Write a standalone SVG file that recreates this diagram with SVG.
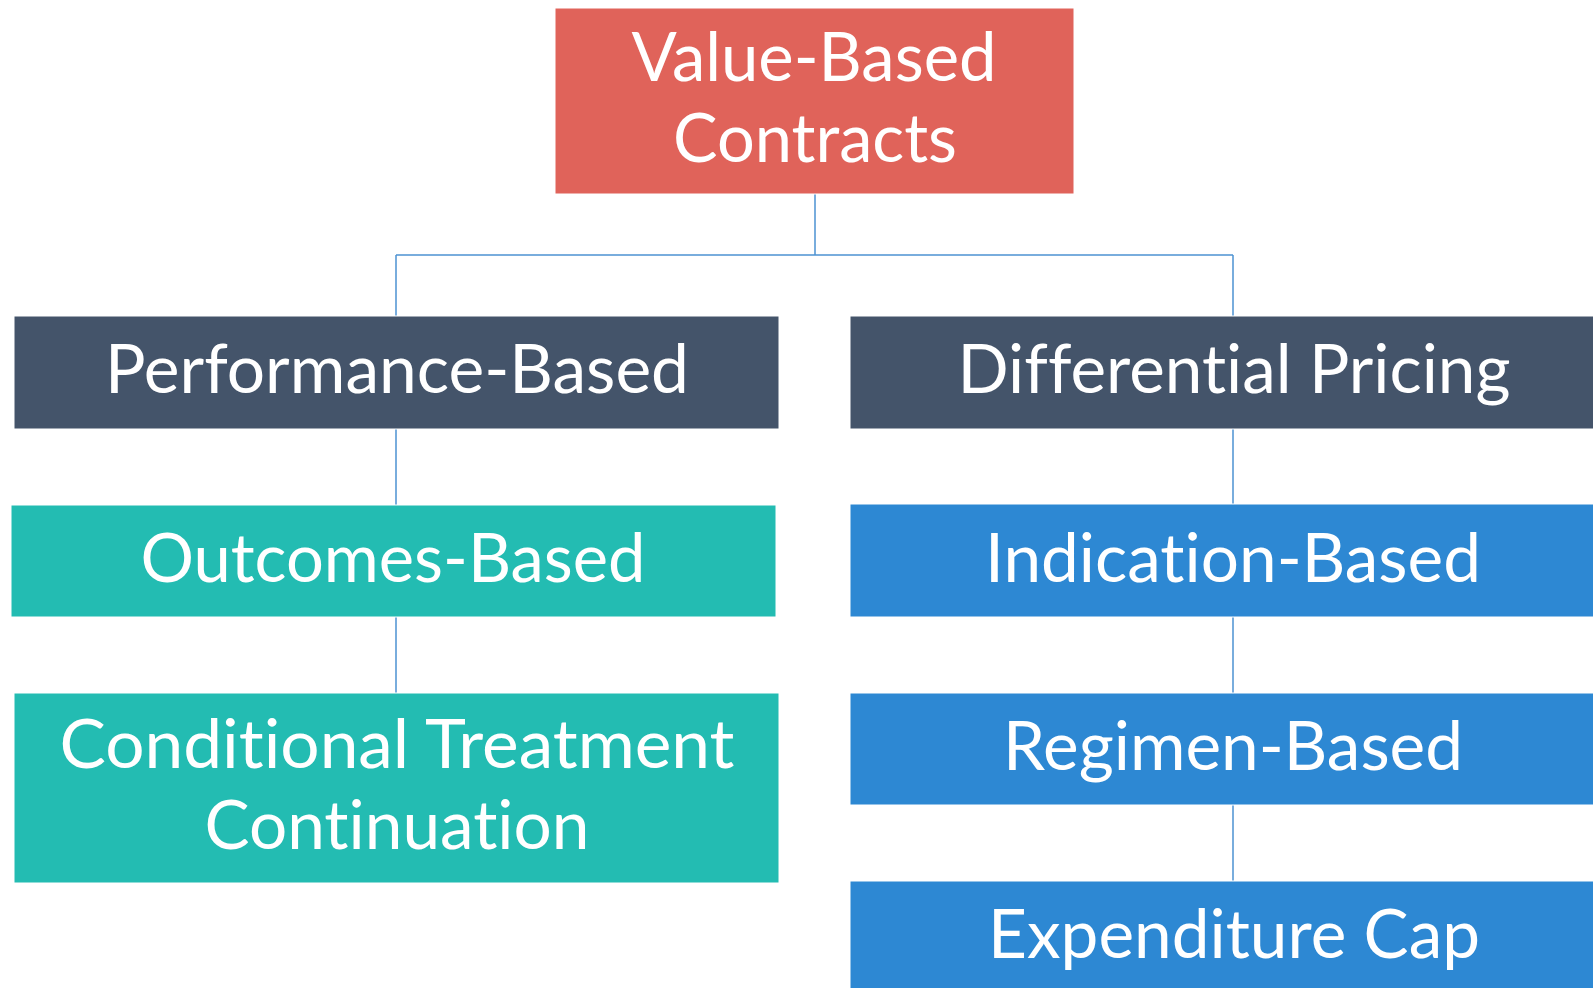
<svg xmlns="http://www.w3.org/2000/svg" width="1593" height="988" viewBox="0 0 1593 988">
  <style>
    .box { stroke: #ffffff; stroke-width: 1; }
    .red { fill: #E0635A; }
    .slate { fill: #44546A; }
    .teal { fill: #23BCB2; }
    .blue { fill: #2D88D3; }
    .label { font-family: "Lato", "Open Sans", "Liberation Sans", sans-serif; font-size: 67px; fill: #ffffff; text-anchor: middle; font-variant-ligatures: none; font-feature-settings: "liga" 0, "clig" 0; }
    .link { stroke: #4E93D2; stroke-width: 1.5; fill: none; }
  </style>
  <rect width="1593" height="988" fill="#ffffff"/>

  <!-- tree connectors -->
  <g id="connectors">
    <path class="link" d="M815 194 V255 M396 255 H1233 M396 255 V316 M1233 255 V316"/>
    <path class="link" d="M396 429 V505 M396 617 V693"/>
    <path class="link" d="M1233 429 V504 M1233 617 V693 M1233 805 V881"/>
  </g>

  <g id="value-based-contracts">
    <rect class="box red" x="555" y="8" width="519" height="186"/>
    <text class="label" x="814" y="81" textLength="365" lengthAdjust="spacingAndGlyphs">Value-Based</text>
    <text class="label" x="815" y="162" textLength="284" lengthAdjust="spacingAndGlyphs">Contracts</text>
  </g>

  <g id="performance-based">
    <rect class="box slate" x="14" y="316" width="765" height="113"/>
    <text class="label" x="397" y="393" textLength="584" lengthAdjust="spacingAndGlyphs">Performance-Based</text>
  </g>

  <g id="outcomes-based">
    <rect class="box teal" x="11" y="505" width="765" height="112"/>
    <text class="label" x="393" y="582" textLength="505" lengthAdjust="spacingAndGlyphs">Outcomes-Based</text>
  </g>

  <g id="conditional-treatment-continuation">
    <rect class="box teal" x="14" y="693" width="765" height="190"/>
    <text class="label" x="397" y="768" textLength="675" lengthAdjust="spacingAndGlyphs">Conditional Treatment</text>
    <text class="label" x="397" y="849" textLength="385" lengthAdjust="spacingAndGlyphs">Continuation</text>
  </g>

  <g id="differential-pricing">
    <rect class="box slate" x="850" y="316" width="750" height="113"/>
    <text class="label" x="1234" y="393" textLength="553" lengthAdjust="spacingAndGlyphs">Differential Pricing</text>
  </g>

  <g id="indication-based">
    <rect class="box blue" x="850" y="504" width="750" height="113"/>
    <text class="label" x="1233" y="582" textLength="496" lengthAdjust="spacingAndGlyphs">Indication-Based</text>
  </g>

  <g id="regimen-based">
    <rect class="box blue" x="850" y="693" width="750" height="112"/>
    <text class="label" x="1233" y="770" textLength="460" lengthAdjust="spacingAndGlyphs">Regimen-Based</text>
  </g>

  <g id="expenditure-cap">
    <rect class="box blue" x="850" y="881" width="750" height="120"/>
    <text class="label" x="1234" y="958" textLength="492" lengthAdjust="spacingAndGlyphs">Expenditure Cap</text>
  </g>
</svg>
